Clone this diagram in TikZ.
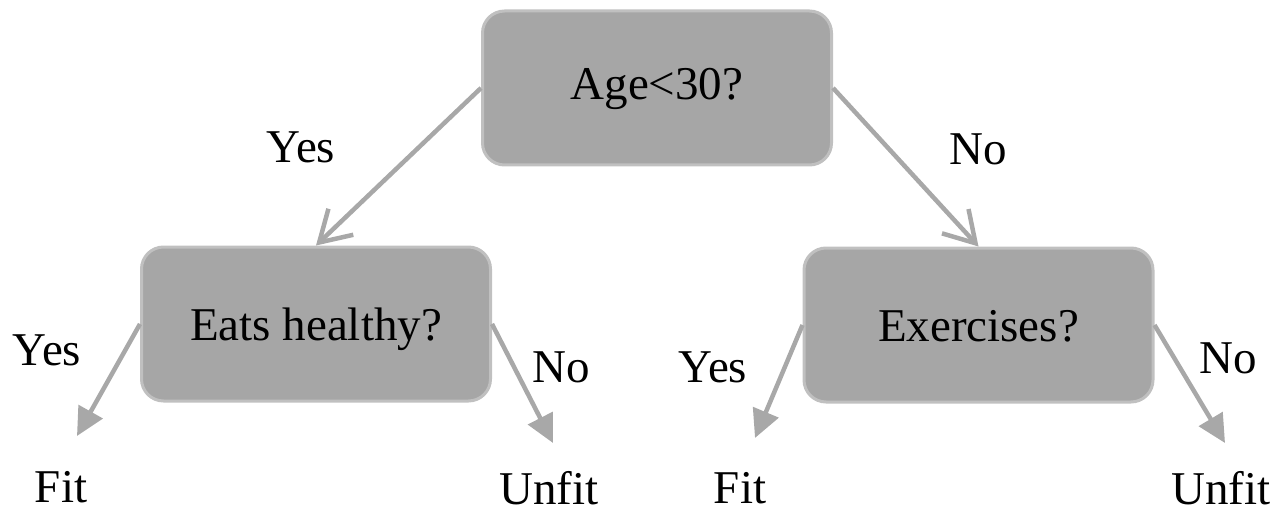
\documentclass[tikz,border=0pt]{standalone}
\usepackage{fontspec}
\setmainfont{Liberation Serif}
\usetikzlibrary{arrows.meta}
\definecolor{boxfill}{HTML}{A6A6A6}
\definecolor{boxline}{HTML}{C0C0C0}
\definecolor{arrowgray}{HTML}{A8A8A8}
\begin{document}
\begin{tikzpicture}[x=1pt,y=-1pt,
  every node/.style={font=\fontsize{47}{50}\selectfont},
  decision/.style={draw=boxline, line width=3pt, fill=boxfill, rounded corners=22pt,
    inner sep=0pt, minimum width=349pt, minimum height=154pt, align=center},
  topdec/.style={decision, text height=32pt, text depth=8pt},
  lowdec/.style={decision, text height=34pt, text depth=2pt},
  lbl/.style={anchor=base, inner sep=0pt},
  openarrow/.style={draw=arrowgray, line width=4.5pt,
    -{Straight Barb[length=30pt,width=36pt,line width=4.5pt]}},
  fillarrow/.style={draw=arrowgray, line width=4.5pt,
    -{Triangle[length=28pt,width=27pt]}, fill=arrowgray}
]
\useasboundingbox (0,0) rectangle (1285,513);

\node[topdec] (T) at (657,88) {Age<30?};
\node[lowdec] (L) at (316,324) {Eats healthy?};
\node[lowdec] (R) at (978.5,325) {Exercises?};

\coordinate (tLY) at (77,436);
\coordinate (tLN) at (553,443);
\coordinate (tRY) at (755,438);
\coordinate (tRN) at (1225,443);

\draw[openarrow] (T.west) -- (L.north);
\draw[openarrow] (T.east) -- (R.north);
\draw[fillarrow] (L.west) -- (tLY);
\draw[fillarrow] (L.east) -- (tLN);
\draw[fillarrow] (R.west) -- (tRY);
\draw[fillarrow] (R.east) -- (tRN);

\node[lbl] (y1) at (301,163) {Yes};
\node[lbl] (n1) at (978,165) {No};
\node[lbl] (y2) at (47,365) {Yes};
\node[lbl] (n2) at (561,382) {No};
\node[lbl] (y3) at (713,382) {Yes};
\node[lbl] (n3) at (1228,373) {No};
\node[lbl] (f1) at (61,502) {Fit};
\node[lbl] (u1) at (549,504) {Unfit};
\node[lbl] (f2) at (740,503) {Fit};
\node[lbl] (u2) at (1221,504) {Unfit};
\end{tikzpicture}
\end{document}
